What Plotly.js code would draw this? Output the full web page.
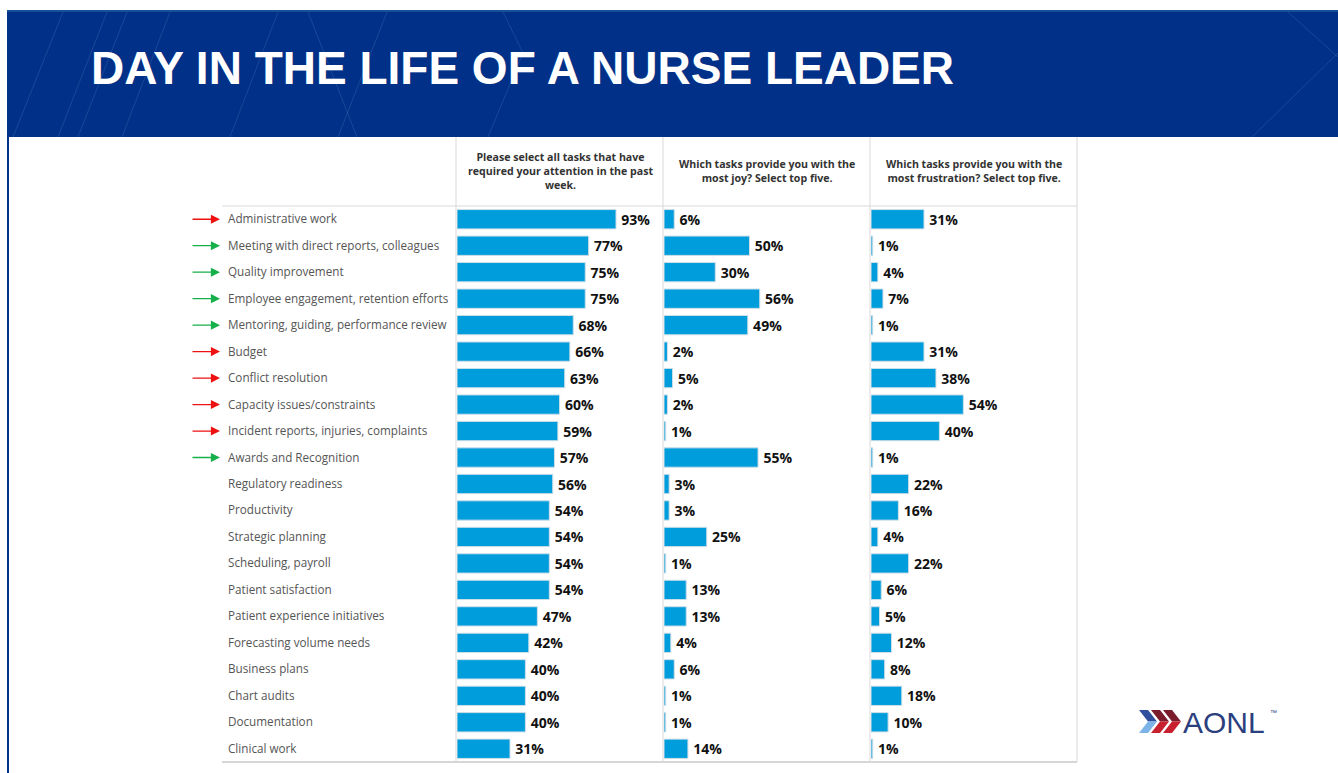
<!DOCTYPE html>
<html>
<head>
<meta charset="utf-8">
<script src="https://cdn.plot.ly/plotly-3.0.1.min.js"></script>
<style>html,body{margin:0;padding:0;background:#fff;}#chart{width:1338px;height:773px;}</style>
</head>
<body>
<div id="chart"></div>
<script>
const chartTitle = "DAY IN THE LIFE OF A NURSE LEADER";
const categories = [
  "Administrative work",
  "Meeting with direct reports, colleagues",
  "Quality improvement",
  "Employee engagement, retention efforts",
  "Mentoring, guiding, performance review",
  "Budget",
  "Conflict resolution",
  "Capacity issues/constraints",
  "Incident reports, injuries, complaints",
  "Awards and Recognition",
  "Regulatory readiness",
  "Productivity",
  "Strategic planning",
  "Scheduling, payroll",
  "Patient satisfaction",
  "Patient experience initiatives",
  "Forecasting volume needs",
  "Business plans",
  "Chart audits",
  "Documentation",
  "Clinical work"
];
const attention   = [93,77,75,75,68,66,63,60,59,57,56,54,54,54,54,47,42,40,40,40,31];
const joy         = [6,50,30,56,49,2,5,2,1,55,3,3,25,1,13,13,4,6,1,1,14];
const frustration = [31,1,4,7,1,31,38,54,40,1,22,16,4,22,6,5,12,8,18,10,1];
// arrow marker per row: "red", "green" or "" (none)
const arrowFlags = ["red","green","green","green","green","red","red","red","red","green","","","","","","","","","","",""];
const columnHeaders = [
  "Please select all tasks that have<br>required your attention in the past<br>week.",
  "Which tasks provide you with the<br>most joy? Select top five.",
  "Which tasks provide you with the<br>most frustration? Select top five."
];
const logoText = "AONL";

const W = 1338, H = 773;
const px = x => x / W;
const py = y => 1 - y / H;

const BAR = "#009ddc";
const FONT = "Open Sans, Noto Sans, sans-serif";
const PXPERPCT = 1.71;

const cols = [
  {x0: 457, x1: 663, data: attention, xa: "x", ya: "y"},
  {x0: 664, x1: 870, data: joy, xa: "x2", ya: "y"},
  {x0: 871, x1: 1077, data: frustration, xa: "x3", ya: "y"}
];

const traces = cols.map(c => ({
  type: "bar",
  orientation: "h",
  y: categories,
  x: c.data,
  xaxis: c.xa,
  yaxis: c.ya,
  marker: {color: BAR, line: {color: "#cfdfe8", width: 1}},
  texttemplate: "\u2009%{x}%",
  textposition: "outside",
  cliponaxis: false,
  textfont: {family: FONT, size: 14, color: "#111", weight: 700},
  hoverinfo: "skip"
}));

const layout = {
  width: W, height: H,
  margin: {l: 0, r: 0, t: 0, b: 0},
  paper_bgcolor: "#fff",
  plot_bgcolor: "rgba(0,0,0,0)",
  showlegend: false,
  bargap: 0.27,
  yaxis: {
    type: "category", categoryarray: categories, categoryorder: "array",
    range: [categories.length - 0.5, -0.5],
    domain: [1 - 762 / H, 1 - 206 / H],
    showticklabels: false, showgrid: false, zeroline: false, showline: false, fixedrange: true
  },
  shapes: [],
  annotations: []
};
cols.forEach((c, i) => {
  const key = i === 0 ? "xaxis" : "xaxis" + (i + 1);
  layout[key] = {
    domain: [px(c.x0), px(c.x1)],
    range: [0, (c.x1 - c.x0) / PXPERPCT],
    showticklabels: false, showgrid: false, zeroline: false, showline: false, fixedrange: true,
    anchor: "y"
  };
});

const S = layout.shapes, A = layout.annotations;
// banner
S.push({type: "rect", xref: "paper", yref: "paper", x0: px(7), x1: px(1338), y0: py(137), y1: py(10), fillcolor: "#013088", line: {width: 0}, layer: "below"});
S.push({type: "rect", xref: "paper", yref: "paper", x0: px(7), x1: px(1338), y0: py(12), y1: py(10), fillcolor: "#1a4f97", line: {width: 0}, layer: "below"});
S.push({type: "rect", xref: "paper", yref: "paper", x0: px(7), x1: px(9), y0: py(773), y1: py(137), fillcolor: "#013088", line: {width: 0}, layer: "below"});
// faint diagonal lines on banner
const diag = [[63,12,13,137],[107,12,58,137],[127,12,78,137],[170,12,122,137],[278,12,230,137],[308,12,357,137],[387,12,338,137],[503,12,523,53],[523,53,488,137],[1288,12,1338,57],[1338,53,1252,137]];
diag.forEach(d => S.push({type: "line", xref: "paper", yref: "paper", x0: px(d[0]), y0: py(d[1]), x1: px(d[2]), y1: py(d[3]), line: {color: "rgba(120,150,210,0.22)", width: 1}, layer: "below"}));
// table white box
S.push({type: "rect", xref: "paper", yref: "paper", x0: px(222), x1: px(1077), y0: py(762), y1: py(137), fillcolor: "#fff", line: {width: 0}, layer: "below"});
// table lines
const grid = "#d9d9d9";
S.push({type: "line", xref: "paper", yref: "paper", x0: px(222), x1: px(1077), y0: py(206), y1: py(206), line: {color: grid, width: 1}});
S.push({type: "line", xref: "paper", yref: "paper", x0: px(222), x1: px(1077), y0: py(762), y1: py(762), line: {color: "#c8c8c8", width: 1.5}});
[456, 663, 870, 1077].forEach(x => S.push({type: "line", xref: "paper", yref: "paper", x0: px(x), x1: px(x), y0: py(137), y1: py(762), line: {color: grid, width: 1}}));

// logo chevrons
function chev(a, cTop, cBot) {
  const t = 9, dx = 9, ym = (710 + 733) / 2;
  S.push({type: "path", xref: "paper", yref: "paper",
    path: `M ${px(a)},${py(710)} L ${px(a+t)},${py(710)} L ${px(a+t+dx)},${py(ym)} L ${px(a+dx)},${py(ym)} Z`,
    fillcolor: cTop, line: {width: 0}});
  S.push({type: "path", xref: "paper", yref: "paper",
    path: `M ${px(a+dx)},${py(ym)} L ${px(a+t+dx)},${py(ym)} L ${px(a+t)},${py(733)} L ${px(a)},${py(733)} Z`,
    fillcolor: cBot, line: {width: 0}});
}
chev(1139, "#2f4f9c", "#7db3e6");
chev(1151, "#7a1c2c", "#c9202f");
chev(1163, "#7a1c2c", "#c9202f");
A.push({xref: "paper", yref: "paper", x: px(1181), y: py(722), xanchor: "left", yanchor: "middle", showarrow: false,
  text: logoText, font: {family: "Liberation Sans, Arial, sans-serif", size: 30, color: "#2b3f7e"}});
A.push({xref: "paper", yref: "paper", x: px(1268), y: py(712), xanchor: "left", yanchor: "middle", showarrow: false,
  text: "™", font: {family: "Liberation Sans, Arial, sans-serif", size: 7, color: "#2b3f7e"}});

// title
A.push({xref: "paper", yref: "paper", x: px(89), y: py(68), xanchor: "left", yanchor: "middle", showarrow: false,
  text: chartTitle, font: {family: "Liberation Sans, Arial, sans-serif", size: 46, color: "#fff", weight: 700}});

// column headers
const headerCenters = [560, 767, 974];
const headerY = [171, 171, 171];
columnHeaders.forEach((h, i) => A.push({xref: "paper", yref: "paper", x: px(headerCenters[i]), y: py(headerY[i]),
  xanchor: "center", yanchor: "middle", showarrow: false, align: "center",
  text: h, font: {family: FONT, size: 10.6, color: "#333", weight: 700}}));

// row labels and arrows
categories.forEach((c, i) => {
  A.push({xref: "paper", yref: "y", x: px(226), y: c, xanchor: "left", yanchor: "middle", yshift: 1, showarrow: false,
    text: c, font: {family: FONT, size: 11.7, color: "#555"}});
  if (arrowFlags[i]) {
    const col = arrowFlags[i] === "red" ? "#ee1111" : "#16b04a";
    A.push({xref: "paper", yref: "y", x: px(220), y: c, text: "", showarrow: true,
      ax: -29, ay: 0, arrowhead: 2, arrowsize: 1.4, arrowwidth: 1.3, arrowcolor: col, standoff: 0, startstandoff: 0});
  }
});

Plotly.newPlot("chart", traces, layout, {displayModeBar: false, staticPlot: true});
</script>
</body>
</html>
